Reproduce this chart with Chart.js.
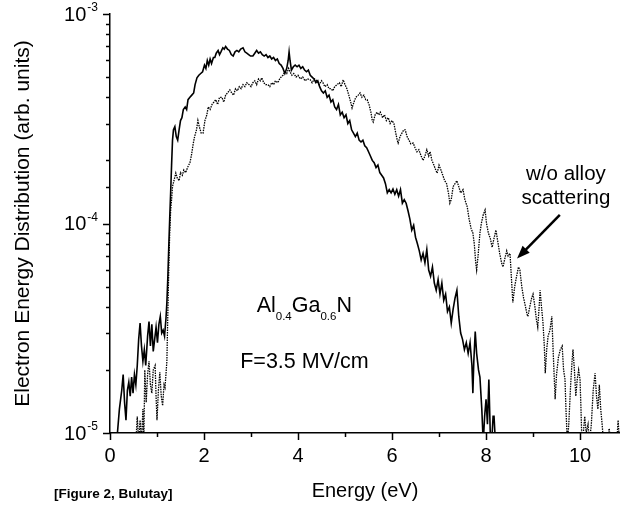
<!DOCTYPE html>
<html>
<head>
<meta charset="utf-8">
<script src="https://cdn.jsdelivr.net/npm/chart.js@4.4.1/dist/chart.umd.min.js"></script>
<style>
  html, body { margin: 0; padding: 0; background: #fff; }
  #c { display: block; }
</style>
</head>
<body>
<canvas id="c" width="620" height="508"></canvas>
<script>
// === DATA (energy in eV, distribution in units of 1e-5 arb. units) ===
const UNIT = 1e-5;

// with alloy scattering (solid line)
const solidPts = [
  [0.15,0.95],[0.20,1.3],[0.25,1.6],[0.28,1.9],[0.31,1.4],[0.34,1.15],[0.37,1.6],[0.40,1.75],
  [0.43,1.5],[0.46,1.85],[0.49,1.55],[0.52,1.9],[0.55,1.7],[0.58,2.1],[0.61,2.8],[0.64,3.35],
  [0.67,2.6],[0.70,2.2],[0.73,2.5],[0.76,2.1],[0.80,2.9],[0.83,3.4],[0.86,2.6],[0.89,3.3],
  [0.92,2.45],[0.95,2.8],[0.98,3.2],[1.01,2.7],[1.04,3.3],[1.07,3.6],[1.10,3.0],[1.13,3.1],
  [1.16,2.9],[1.19,3.5],[1.21,4.2],[1.23,5.5],[1.25,7.7],[1.27,10.5],[1.29,14],[1.31,19],
  [1.33,25],[1.35,28],[1.38,29],[1.41,26],[1.44,25],[1.47,28],[1.50,31],[1.53,32],
  [1.56,35],[1.60,36],[1.63,35],[1.66,39],[1.70,40],[1.74,41],[1.78,42],[1.81,46],
  [1.85,49.6],[1.89,51],[1.93,52],[1.97,53],[2.01,57],[2.04,55],[2.07,60],[2.10,57],
  [2.13,61],[2.16,58],[2.20,62],[2.23,62],[2.26,65],[2.30,67],[2.33,64],[2.36,66],
  [2.40,69],[2.43,68],[2.46,70],[2.50,68],[2.54,67],[2.58,64],[2.62,63],[2.66,66],
  [2.70,67],[2.74,66],[2.78,68],[2.83,69],[2.87,66],[2.91,65],[2.95,64],[2.99,63],
  [3.04,63],[3.08,65],[3.12,67],[3.16,65],[3.20,66],[3.24,64],[3.28,63],[3.32,64],
  [3.36,62],[3.40,63],[3.44,61],[3.48,62],[3.52,60],[3.56,61],[3.60,58],[3.64,57],
  [3.68,55],[3.72,52],[3.76,55],[3.79,60],[3.81,66],[3.83,60],[3.86,54],[3.90,56],
  [3.94,57],[3.98,56],[4.02,57],[4.06,55],[4.10,56],[4.14,54],[4.18,53],[4.22,54],
  [4.26,51],[4.30,50],[4.34,49],[4.38,47],[4.42,48],[4.46,45],[4.50,43],[4.54,42],
  [4.58,43],[4.62,40],[4.66,41],[4.70,38],[4.74,39],[4.78,36],[4.82,35],[4.86,37],
  [4.90,33],[4.94,34],[4.98,32],[5.02,33],[5.06,30],[5.10,31],[5.14,28],[5.18,27],
  [5.22,26],[5.26,27],[5.30,25],[5.34,24.5],[5.38,25],[5.42,23.5],[5.46,23],[5.50,22],
  [5.54,21],[5.58,20],[5.62,19.5],[5.66,18.5],[5.70,19],[5.74,17.5],[5.78,17],[5.82,16.5],
  [5.86,15.5],[5.90,14],[5.94,14.5],[5.98,14],[6.02,14.6],[6.06,13.8],[6.10,14.5],[6.14,13.5],
  [6.18,14.5],[6.22,12.5],[6.26,13],[6.30,12.5],[6.34,11.5],[6.38,10.5],[6.42,9.3],[6.46,9.8],
  [6.50,8.6],[6.54,8.0],[6.58,7.4],[6.62,6.7],[6.66,7.2],[6.70,6.5],[6.74,7.5],[6.78,6.0],
  [6.82,5.6],[6.86,6.2],[6.90,5.2],[6.94,4.8],[6.98,5.4],[7.02,4.6],[7.06,5.2],[7.10,4.3],
  [7.14,4.6],[7.18,3.8],[7.22,4.0],[7.26,3.35],[7.30,3.9],[7.34,4.4],[7.38,4.8],[7.42,3.6],
  [7.46,3.0],[7.50,2.8],[7.54,2.5],[7.58,2.7],[7.62,2.4],[7.66,2.7],[7.70,2.1],[7.72,1.55],
  [7.74,2.2],[7.77,3.05],[7.80,2.4],[7.84,2.0],[7.87,1.85],[7.91,1.3],[7.94,0.9],[7.97,1.2],
  [8.00,1.45],[8.03,1.1],[8.06,1.8],[8.09,1.0],[8.12,0.9],[8.15,1.2],[8.17,1.2],[8.20,0.9],
  [8.25,0.9]
];

// w/o alloy scattering (dotted line)
const dottedPts = [
  [0.55,0.9],[0.58,1.2],[0.61,0.9],[0.64,1.15],[0.67,0.9],[0.70,1.3],[0.72,0.9],[0.74,2.0],
  [0.77,1.4],[0.80,1.9],[0.83,2.2],[0.86,1.7],[0.89,1.55],[0.92,2.0],[0.96,2.1],[0.98,1.5],
  [1.00,1.15],[1.03,1.6],[1.06,1.95],[1.09,1.5],[1.12,1.35],[1.15,1.7],[1.17,1.65],[1.19,1.9],
  [1.21,2.2],[1.23,3.7],[1.25,6],[1.27,9],[1.29,11.5],[1.31,13],[1.33,15],[1.36,16],
  [1.40,17.4],[1.43,16.5],[1.47,16],[1.50,17.5],[1.54,17],[1.57,18],[1.61,17.5],[1.65,18.5],
  [1.70,19.5],[1.73,21],[1.77,24],[1.80,26],[1.84,28],[1.87,31],[1.90,29],[1.94,27],
  [1.98,27],[2.02,31],[2.06,33],[2.09,36],[2.13,35],[2.17,37],[2.21,38],[2.25,39],
  [2.29,37],[2.33,40],[2.38,40],[2.42,38],[2.46,41],[2.50,42],[2.55,43.4],[2.59,42],
  [2.63,41],[2.67,44],[2.71,43],[2.75,45],[2.79,44],[2.83,46],[2.87,45],[2.91,47],
  [2.96,46],[3.00,45],[3.04,47],[3.08,48],[3.12,46],[3.16,49],[3.20,48],[3.23,49.6],
  [3.27,47],[3.31,46],[3.36,46],[3.40,45],[3.44,47],[3.48,46],[3.52,48],[3.57,47],
  [3.61,49],[3.64,50],[3.68,51],[3.72,53],[3.76,52],[3.80,55],[3.83,53],[3.87,51],
  [3.91,52],[3.96,50],[4.00,51],[4.05,49],[4.10,50],[4.15,48],[4.20,49],[4.26,48.5],
  [4.30,47],[4.35,49],[4.40,48],[4.45,46],[4.50,48],[4.53,47],[4.57,45],[4.62,46],
  [4.66,44],[4.70,44],[4.74,43],[4.78,45],[4.83,46],[4.88,47],[4.92,45],[4.96,48.5],
  [5.00,46],[5.04,44],[5.08,41],[5.12,38],[5.15,35.6],[5.19,38],[5.23,40],[5.28,41],
  [5.32,42],[5.36,40],[5.40,41],[5.44,39],[5.47,39],[5.51,37],[5.55,34],[5.58,31],
  [5.60,30.5],[5.64,33],[5.68,34],[5.72,33],[5.75,34],[5.80,32],[5.84,33],[5.88,31],
  [5.92,32],[5.96,30],[6.00,31],[6.04,30],[6.08,27],[6.11,25],[6.13,24.2],[6.17,26],
  [6.21,27],[6.25,28],[6.28,28],[6.32,26],[6.36,25],[6.40,24],[6.45,24.2],[6.49,23],
  [6.53,22],[6.57,22.5],[6.62,21],[6.66,20],[6.70,21],[6.74,22.5],[6.78,21],[6.81,22],
  [6.85,20],[6.89,19],[6.93,18],[6.96,17.4],[7.00,19],[7.04,18],[7.08,17],[7.12,16],
  [7.16,15.5],[7.20,14],[7.23,12.5],[7.26,13],[7.30,15],[7.34,15.5],[7.38,16],[7.42,15],
  [7.46,14],[7.51,14.5],[7.55,13],[7.60,12],[7.64,10.5],[7.68,9.5],[7.72,9.0],[7.75,8],
  [7.78,6.5],[7.80,6.0],[7.83,7],[7.87,9],[7.90,10],[7.94,11],[7.98,11.6],[8.01,10],
  [8.05,9],[8.09,8.5],[8.13,7.7],[8.17,8.5],[8.21,9.3],[8.25,8.2],[8.29,7.2],[8.33,6.5],
  [8.36,6.2],[8.40,6.8],[8.44,7.4],[8.47,7.0],[8.51,7.2],[8.54,5.5],[8.57,4.2],[8.61,5.0],
  [8.65,5.6],[8.69,6.2],[8.72,6.0],[8.76,5.0],[8.80,4.4],[8.84,4.0],[8.87,3.7],[8.89,3.6],
  [8.93,4.0],[8.97,4.4],[9.00,4.6],[9.04,4.0],[9.07,3.5],[9.10,3.2],[9.13,4.0],[9.15,4.8],
  [9.18,4.0],[9.21,3.4],[9.24,2.6],[9.26,1.93],[9.29,2.5],[9.32,2.9],[9.36,3.1],[9.40,3.6],
  [9.43,2.4],[9.47,1.45],[9.50,1.9],[9.54,2.3],[9.58,2.5],[9.62,2.6],[9.65,2.0],[9.68,1.8],
  [9.70,1.3],[9.73,0.9],[9.76,1.1],[9.80,1.7],[9.83,2.2],[9.85,2.5],[9.88,2.0],[9.91,1.5],
  [9.94,1.8],[9.97,2.0],[10.00,1.8],[10.02,1.3],[10.04,0.9],[10.07,1.0],[10.10,1.2],[10.13,1.0],
  [10.17,1.1],[10.20,0.9],[10.24,1.1],[10.28,1.6],[10.32,1.93],[10.35,1.5],[10.38,1.3],[10.41,1.7],
  [10.44,1.3],[10.47,1.1],[10.50,0.9],[10.58,0.9],[10.62,1.05],[10.65,0.9],[10.78,0.9],[10.81,1.15],
  [10.84,0.9]
];

// tick labels
const xTickLabels = { 0: '0', 2: '2', 4: '4', 6: '6', 8: '8', 10: '10' };
const yDecades = [-5, -4, -3];

// === HELPERS ===
const toXY = pts => pts.map(p => ({ x: p[0], y: p[1] * UNIT }));
const FONT = '"Liberation Sans", Arial, sans-serif';

function isDecade(v) {
    const l = Math.log10(v);
    return Math.abs(l - Math.round(l)) < 1e-6;
}

// === ОСИ, ПОДПИСИ И АННОТАЦИИ ===
const decor = {
    id: 'decor',
    afterDraw(chart) {
        const { ctx, chartArea } = chart;
        const x = chart.scales.x, y = chart.scales.y;
        ctx.save();
        ctx.strokeStyle = '#000';
        ctx.fillStyle = '#000';
        ctx.lineWidth = 1.5;

        // x ticks: long at even, short at odd
        x.ticks.forEach(t => {
            if (Math.abs(t.value - Math.round(t.value)) > 1e-6) return;
            const px = Math.round(x.getPixelForValue(t.value)) + 0.5;
            const len = t.value % 2 === 0 ? 7 : 4;
            ctx.beginPath();
            ctx.moveTo(px, chartArea.bottom);
            ctx.lineTo(px, chartArea.bottom + len);
            ctx.stroke();
        });

        // y ticks: long at decades, short for 2..9
        y.ticks.forEach(t => {
            const py = Math.round(y.getPixelForValue(t.value)) + 0.5;
            const len = isDecade(t.value) ? 7 : 4;
            ctx.beginPath();
            ctx.moveTo(chartArea.left, py);
            ctx.lineTo(chartArea.left - len, py);
            ctx.stroke();
        });

        // y labels 10^n
        yDecades.forEach(e => {
            const py = y.getPixelForValue(Math.pow(10, e));
            const sup = '-' + Math.abs(e);
            ctx.font = '12px ' + FONT;
            const supW = ctx.measureText(sup).width;
            const supRight = 98;
            ctx.textAlign = 'left';
            ctx.textBaseline = 'middle';
            ctx.fillText(sup, supRight - supW, py - 6);
            ctx.font = '20px ' + FONT;
            ctx.textAlign = 'right';
            ctx.fillText('10', supRight - supW - 1, py + 1);
        });

        // annotation: arrow
        const ax1 = x.getPixelForValue(9.57), ay1 = y.getPixelForValue(1.10e-4);
        const ax2 = x.getPixelForValue(8.66), ay2 = y.getPixelForValue(6.8e-5);
        const ang = Math.atan2(ay2 - ay1, ax2 - ax1);
        ctx.lineWidth = 2.5;
        ctx.beginPath();
        ctx.moveTo(ax1, ay1);
        ctx.lineTo(ax2 - 8 * Math.cos(ang), ay2 - 8 * Math.sin(ang));
        ctx.stroke();
        ctx.beginPath();
        ctx.moveTo(ax2, ay2);
        ctx.lineTo(ax2 - 13 * Math.cos(ang) + 5 * Math.sin(ang), ay2 - 13 * Math.sin(ang) - 5 * Math.cos(ang));
        ctx.lineTo(ax2 - 13 * Math.cos(ang) - 5 * Math.sin(ang), ay2 - 13 * Math.sin(ang) + 5 * Math.cos(ang));
        ctx.closePath();
        ctx.fill();

        // annotation: text (alphabetic baselines)
        ctx.textAlign = 'center';
        ctx.textBaseline = 'alphabetic';
        ctx.font = '20.5px ' + FONT;
        ctx.fillText('w/o alloy', x.getPixelForValue(9.70), y.getPixelForValue(1.613e-4));
        ctx.fillText('scattering', x.getPixelForValue(9.70), y.getPixelForValue(1.239e-4));

        // Al0.4Ga0.6N
        let cx = x.getPixelForValue(3.12);
        const cy = y.getPixelForValue(3.79e-5);
        ctx.textAlign = 'left';
        [['Al', 0], ['0.4', 1], ['Ga', 0], ['0.6', 1], ['N', 0]].forEach(([s, sub]) => {
            ctx.font = (sub ? '11.5px ' : '21.5px ') + FONT;
            ctx.fillText(s, cx, cy + (sub ? 8.5 : 0));
            cx += ctx.measureText(s).width;
        });

        ctx.font = '21.5px ' + FONT;
        ctx.fillText('F=3.5 MV/cm', x.getPixelForValue(2.77), y.getPixelForValue(2.043e-5));

        // credit
        ctx.textBaseline = 'middle';
        ctx.font = 'bold 13.5px ' + FONT;
        ctx.fillText('[Figure 2, Bulutay]', 54, 494);
        ctx.restore();
    }
};

// === ГРАФИК ===
new Chart(document.getElementById('c'), {
    type: 'line',
    data: {
        datasets: [
            {
                label: 'with alloy scattering',
                data: toXY(solidPts),
                borderColor: '#000',
                borderWidth: 1.6,
                pointRadius: 0,
                tension: 0
            },
            {
                label: 'w/o alloy scattering',
                data: toXY(dottedPts),
                borderColor: '#000',
                borderWidth: 1.3,
                borderDash: [1.5, 1],
                pointRadius: 0,
                tension: 0
            }
        ]
    },
    options: {
        responsive: false,
        animation: false,
        devicePixelRatio: 1,
        layout: { padding: { top: 14, right: 0, left: 0, bottom: 0 } },
        plugins: { legend: { display: false }, tooltip: { enabled: false } },
        scales: {
            x: {
                type: 'linear',
                min: 0,
                max: 10.85,
                grid: { display: false, drawTicks: false },
                border: { display: true, color: '#000', width: 1.5 },
                ticks: {
                    stepSize: 1,
                    includeBounds: false,
                    autoSkip: false,
                    maxRotation: 0,
                    padding: 11,
                    color: '#000',
                    font: { family: FONT, size: 20 },
                    callback: v => xTickLabels[v] || ''
                },
                title: {
                    display: true,
                    text: 'Energy (eV)',
                    color: '#000',
                    font: { family: FONT, size: 20 },
                    padding: { top: 0, bottom: 5 }
                },
                afterFit: s => { s.height = 75; }
            },
            y: {
                type: 'logarithmic',
                min: 1e-5,
                max: 1e-3,
                grid: { display: false, drawTicks: false },
                border: { display: true, color: '#000', width: 1.5 },
                ticks: { display: false },
                title: {
                    display: true,
                    text: 'Electron Energy Distribution (arb. units)',
                    color: '#000',
                    font: { family: FONT, size: 21 },
                    padding: { top: 11, bottom: 0 }
                },
                afterFit: s => { s.width = 110; }
            }
        }
    },
    plugins: [decor]
});
</script>
</body>
</html>
